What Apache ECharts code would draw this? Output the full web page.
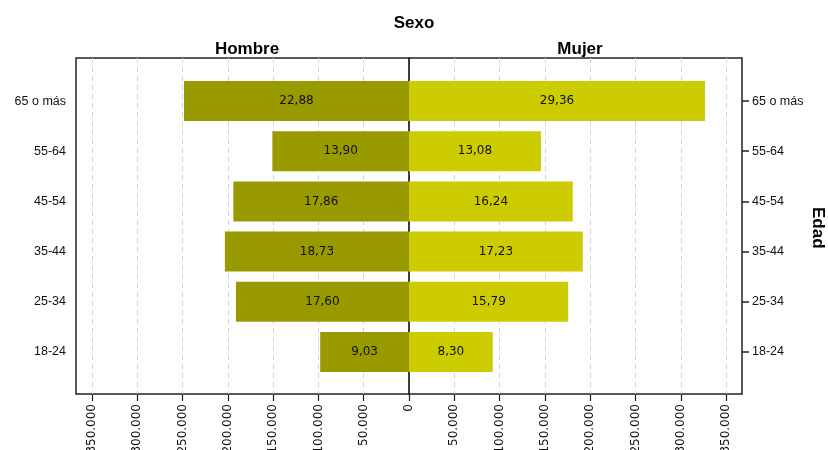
<!DOCTYPE html>
<html>
<head>
<meta charset="utf-8">
<script src="https://cdn.jsdelivr.net/npm/echarts@6/dist/echarts.min.js"></script>
<style>
  html, body { margin: 0; padding: 0; background: #fff; }
  #main { width: 828px; height: 450px; }
</style>
</head>
<body>
<div id="main"></div>
<script>
// age groups, bottom to top
const edades = ['18-24', '25-34', '35-44', '45-54', '55-64', '65 o más'];
// population
const hombre = [98000, 191000, 203200, 193800, 150800, 248300];
const mujer = [92400, 175700, 191800, 180700, 145600, 326700];
// percent labels inside bars
const pctHombre = ['9,03', '17,60', '18,73', '17,86', '13,90', '22,88'];
const pctMujer = ['8,30', '15,79', '17,23', '16,24', '13,08', '29,36'];
// x tick values
const xTicks = [-350000, -300000, -250000, -200000, -150000, -100000, -50000, 0,
  50000, 100000, 150000, 200000, 250000, 300000, 350000];

const XMAX = 367500;
const fmt = v => Math.abs(v).toString().replace(/\B(?=(\d{3})+(?!\d))/g, '.');

let chart = echarts.init(document.getElementById('main'));
chart.setOption({
  animation: false,
  textStyle: { fontFamily: 'Liberation Sans' },
  title: [
    { text: 'Sexo', left: 'center', top: 10,
      textStyle: { fontSize: 17, fontWeight: 'bold', color: '#000' } },
    { text: 'Hombre', left: 242, top: 36, textAlign: 'center',
      textStyle: { fontSize: 17, fontWeight: 'bold', color: '#000' } },
    { text: 'Mujer', left: 575, top: 36, textAlign: 'center',
      textStyle: { fontSize: 17, fontWeight: 'bold', color: '#000' } }
  ],
  graphic: [{
    type: 'text', left: 809, top: 207, rotation: -Math.PI / 2,
    style: { text: 'Edad', font: 'bold 17px Liberation Sans', fill: '#000' }
  }],
  grid: [
    { left: 76, right: 86, top: 58, bottom: 56, show: true, outerBoundsMode: 'none',
      containLabel: false,
      borderColor: '#222', borderWidth: 1.5, backgroundColor: 'transparent' },
    { left: 76, right: 86, top: 76, bottom: 73, outerBoundsMode: 'none',
      containLabel: false }
  ],
  xAxis: [{
    gridIndex: 0, type: 'value', min: -XMAX, max: XMAX,
    axisLine: { show: false },
    axisTick: { show: true, length: 7, customValues: xTicks,
      lineStyle: { color: '#222', width: 1.2 } },
    axisLabel: { customValues: xTicks, rotate: 90, margin: 10, fontSize: 12,
      color: '#111', fontFamily: 'DejaVu Sans', formatter: fmt },
    splitLine: { show: true, lineStyle: { color: '#d4d4d4', type: [5, 4], width: 1 } }
  }, {
    gridIndex: 1, type: 'value', min: -XMAX, max: XMAX, show: false,
    splitLine: { show: false }
  }],
  yAxis: [{
    gridIndex: 0, type: 'value', min: 0, max: 1,
    axisLine: { show: true, onZero: true, lineStyle: { color: '#000', width: 1.5 } },
    axisTick: { show: false }, axisLabel: { show: false }, splitLine: { show: false }
  }, {
    gridIndex: 1, type: 'category', data: edades, position: 'left',
    axisLine: { show: false },
    axisTick: { show: true, alignWithLabel: true, length: 7,
      lineStyle: { color: '#222', width: 1.5 } },
    axisLabel: { fontSize: 12.5, color: '#111', margin: 10 }
  }, {
    gridIndex: 1, type: 'category', data: edades, position: 'right',
    axisLine: { show: false },
    axisTick: { show: true, alignWithLabel: true, length: 7,
      lineStyle: { color: '#222', width: 1.5 } },
    axisLabel: { fontSize: 12.5, color: '#111', margin: 10 }
  }],
  series: [{
    name: 'Hombre', type: 'bar', xAxisIndex: 1, yAxisIndex: 1, stack: 'pir',
    barWidth: 40,
    itemStyle: { color: '#999900' },
    label: { show: true, position: 'inside', fontFamily: 'DejaVu Sans', fontSize: 12,
      color: '#111', formatter: p => pctHombre[p.dataIndex] },
    data: hombre.map(v => -v)
  }, {
    name: 'Mujer', type: 'bar', xAxisIndex: 1, yAxisIndex: 1, stack: 'pir',
    barWidth: 40,
    itemStyle: { color: '#cccc00' },
    label: { show: true, position: 'inside', fontFamily: 'DejaVu Sans', fontSize: 12,
      color: '#111', formatter: p => pctMujer[p.dataIndex] },
    data: mujer
  }]
});
</script>
</body>
</html>
